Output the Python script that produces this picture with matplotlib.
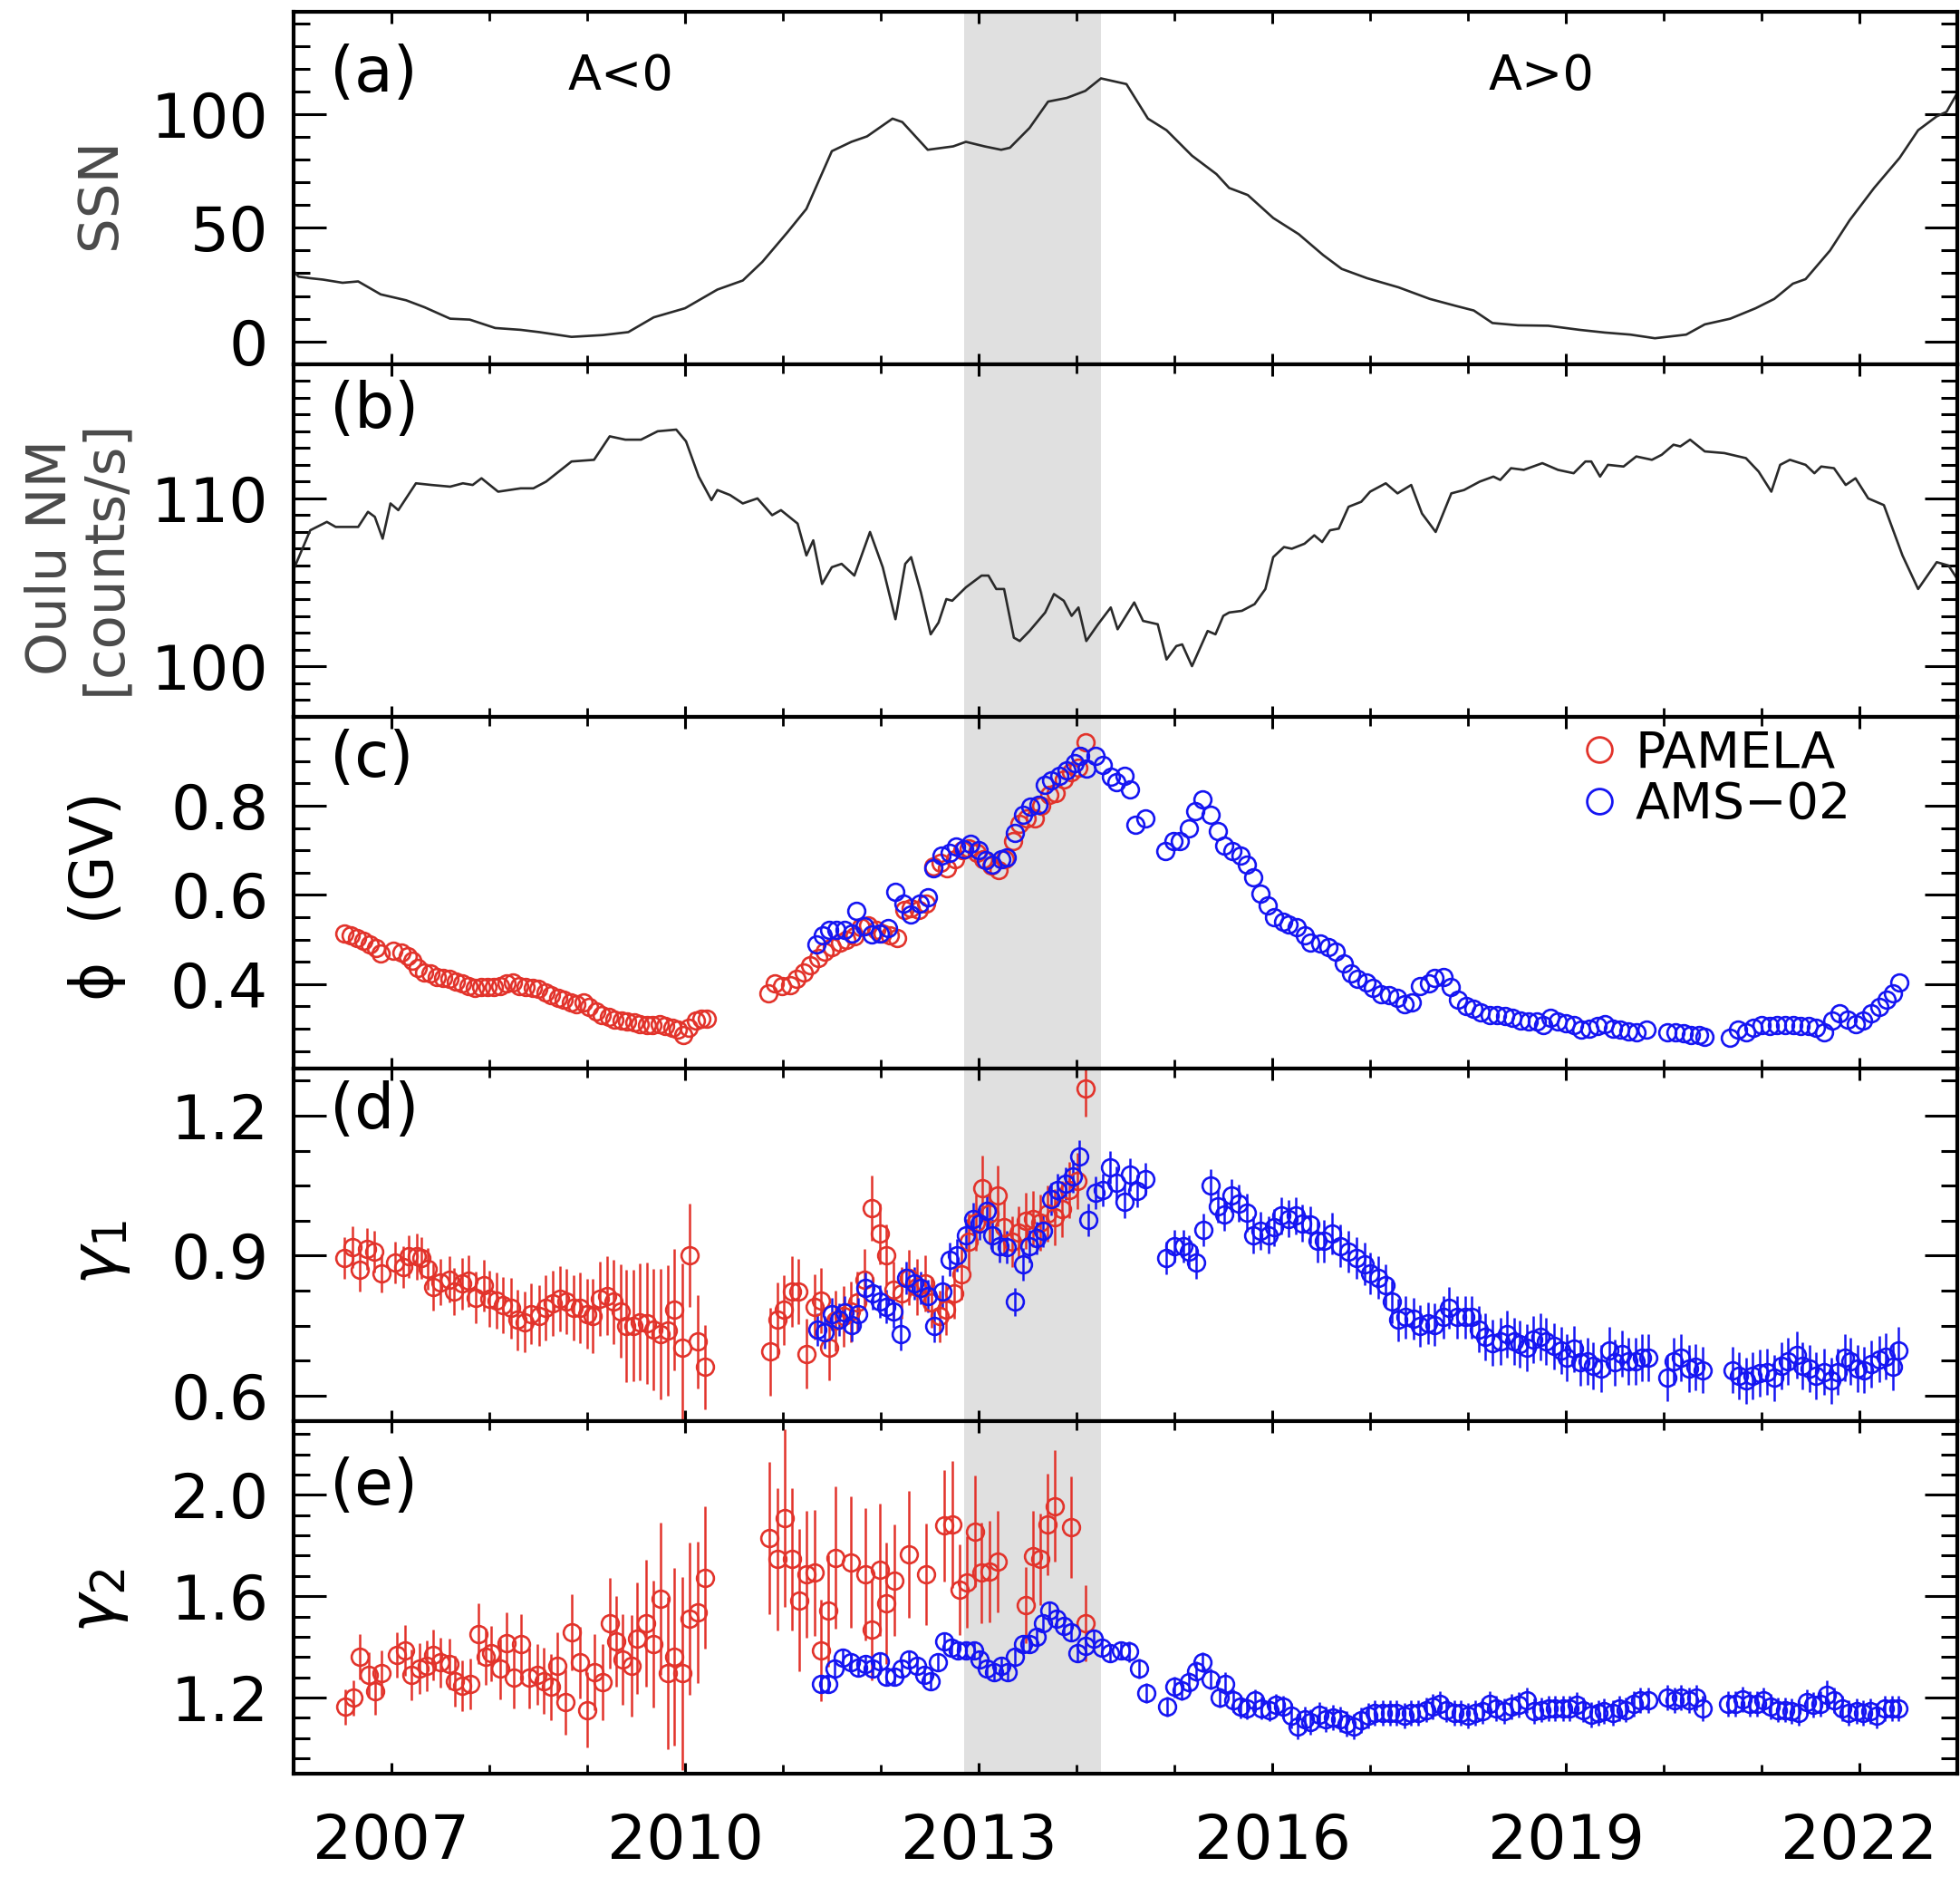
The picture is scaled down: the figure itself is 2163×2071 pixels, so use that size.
import matplotlib
matplotlib.use("Agg")
import matplotlib.pyplot as plt
from matplotlib.ticker import MultipleLocator, FixedLocator, FormatStrFormatter
from matplotlib.lines import Line2D

plt.rcParams['font.family'] = ['DejaVu Sans']

# ---------------- data ----------------
ssn_year = [2006.0, 2006.05, 2006.17, 2006.30, 2006.50, 2006.66, 2006.89, 2007.15, 2007.34, 2007.60,
            2007.80, 2008.06, 2008.32, 2008.51, 2008.84, 2009.16, 2009.42, 2009.68, 2010.00, 2010.33,
            2010.59, 2010.79, 2011.05, 2011.24, 2011.50, 2011.70, 2011.86, 2012.12, 2012.22, 2012.48,
            2012.74, 2012.87, 2013.06, 2013.23, 2013.32, 2013.52, 2013.71, 2013.90, 2014.09, 2014.25,
            2014.51, 2014.73, 2014.92, 2015.18, 2015.43, 2015.56, 2015.75, 2016.01, 2016.27, 2016.52,
            2016.71, 2016.97, 2017.29, 2017.61, 2017.87, 2018.06, 2018.25, 2018.51, 2018.82, 2019.14,
            2019.40, 2019.66, 2019.91, 2020.23, 2020.42, 2020.68, 2020.94, 2021.13, 2021.32, 2021.45,
            2021.70, 2021.90, 2022.15, 2022.41, 2022.60, 2022.79, 2022.89, 2023.01]
ssn_val = [31.0, 28.5, 27.8, 27.2, 25.8, 26.4, 20.7, 18.1, 15.0, 10.0,
           9.6, 5.9, 5.1, 4.1, 2.0, 2.8, 4.1, 10.6, 14.6, 22.8,
           26.8, 35.0, 48.2, 58.3, 83.7, 87.8, 90.2, 98.0, 96.5, 84.3,
           85.8, 87.8, 85.8, 84.3, 85.2, 93.9, 105.5, 107.1, 110.2, 115.7,
           113.2, 98.0, 92.9, 81.7, 73.6, 67.5, 64.4, 54.3, 47.2, 38.0,
           31.9, 27.8, 23.8, 18.7, 15.7, 13.6, 8.1, 7.1, 6.9, 5.1,
           3.9, 3.0, 1.4, 3.0, 7.5, 10.0, 14.6, 18.7, 25.4, 27.4,
           40.0, 53.3, 67.5, 80.7, 92.9, 99.0, 101.0, 110.0]

nm_year = [2006.01, 2006.17, 2006.34, 2006.43, 2006.56, 2006.66, 2006.76, 2006.83, 2006.91, 2006.99,
           2007.07, 2007.25, 2007.41, 2007.60, 2007.73, 2007.83, 2007.92, 2008.09, 2008.32, 2008.45,
           2008.58, 2008.84, 2009.07, 2009.23, 2009.39, 2009.55, 2009.72, 2009.91, 2010.01, 2010.14,
           2010.27, 2010.33, 2010.46, 2010.59, 2010.74, 2010.89, 2010.98, 2011.15, 2011.24, 2011.31,
           2011.40, 2011.50, 2011.60, 2011.73, 2011.89, 2012.02, 2012.15, 2012.25, 2012.31, 2012.41,
           2012.51, 2012.59, 2012.67, 2012.73, 2012.87, 2013.03, 2013.10, 2013.18, 2013.26, 2013.36,
           2013.42, 2013.52, 2013.68, 2013.77, 2013.87, 2013.95, 2014.02, 2014.10, 2014.22, 2014.35,
           2014.42, 2014.59, 2014.68, 2014.83, 2014.92, 2015.02, 2015.08, 2015.18, 2015.34, 2015.42,
           2015.50, 2015.56, 2015.69, 2015.82, 2015.93, 2016.01, 2016.12, 2016.20, 2016.33, 2016.43,
           2016.51, 2016.59, 2016.68, 2016.78, 2016.91, 2017.00, 2017.16, 2017.28, 2017.42, 2017.53,
           2017.67, 2017.83, 2017.96, 2018.12, 2018.26, 2018.33, 2018.44, 2018.57, 2018.76, 2018.92,
           2019.08, 2019.20, 2019.26, 2019.35, 2019.43, 2019.59, 2019.72, 2019.88, 2019.98, 2020.10,
           2020.17, 2020.27, 2020.42, 2020.62, 2020.84, 2020.97, 2021.10, 2021.19, 2021.29, 2021.45,
           2021.54, 2021.61, 2021.74, 2021.86, 2021.96, 2022.09, 2022.25, 2022.44, 2022.60, 2022.79,
           2022.91, 2023.00]
nm_val = [105.9, 108.1, 108.6, 108.3, 108.3, 108.3, 109.2, 108.9, 107.6, 109.7,
          109.3, 110.9, 110.8, 110.7, 110.9, 110.8, 111.2, 110.4, 110.6, 110.6,
          111.0, 112.2, 112.3, 113.7, 113.5, 113.5, 114.0, 114.1, 113.4, 111.3,
          109.9, 110.5, 110.2, 109.7, 110.0, 109.0, 109.3, 108.5, 106.6, 107.5,
          104.9, 105.9, 106.1, 105.4, 108.0, 105.9, 102.8, 106.1, 106.5, 104.4,
          101.9, 102.6, 104.0, 103.9, 104.7, 105.4, 105.4, 104.6, 104.6, 101.7,
          101.5, 102.1, 103.2, 104.3, 103.9, 103.0, 103.5, 101.5, 102.5, 103.5,
          102.2, 103.8, 102.7, 102.5, 100.4, 101.2, 101.3, 100.0, 102.1, 101.9,
          103.0, 103.2, 103.3, 103.7, 104.6, 106.5, 107.1, 107.0, 107.3, 107.8,
          107.4, 108.1, 108.2, 109.5, 109.8, 110.4, 110.9, 110.3, 110.8, 109.1,
          108.0, 110.3, 110.5, 111.0, 111.3, 111.1, 111.8, 111.7, 112.1, 111.7,
          111.5, 112.2, 112.2, 111.3, 112.0, 111.9, 112.5, 112.3, 112.6, 113.2,
          113.1, 113.5, 112.8, 112.7, 112.4, 111.6, 110.4, 112.0, 112.3, 112.0,
          111.5, 111.9, 111.8, 110.8, 111.2, 110.0, 109.6, 106.6, 104.6, 106.2,
          106.0, 105.2]

pam_phi_year = [2006.52, 2006.58, 2006.65, 2006.71, 2006.78, 2006.84, 2006.89, 2007.02, 2007.10, 2007.17,
                2007.21, 2007.27, 2007.33, 2007.40, 2007.46, 2007.53, 2007.59, 2007.66, 2007.72, 2007.79,
                2007.85, 2007.92, 2007.98, 2008.05, 2008.11, 2008.18, 2008.24, 2008.31, 2008.37, 2008.44,
                2008.50, 2008.57, 2008.63, 2008.70, 2008.76, 2008.83, 2008.89, 2008.96, 2009.02, 2009.09,
                2009.15, 2009.22, 2009.28, 2009.35, 2009.41, 2009.48, 2009.54, 2009.61, 2009.67, 2009.74,
                2009.80, 2009.87, 2009.93, 2009.98, 2010.04, 2010.11, 2010.17, 2010.22,
                2010.85, 2010.92, 2010.99, 2011.07, 2011.14, 2011.21, 2011.28, 2011.36, 2011.43, 2011.50,
                2011.58, 2011.65, 2011.73, 2011.80, 2011.87, 2011.95, 2012.02, 2012.09, 2012.17, 2012.24,
                2012.31, 2012.39, 2012.46, 2012.54, 2012.61, 2012.68, 2012.76, 2012.83, 2012.90, 2012.98,
                2013.05, 2013.13, 2013.20, 2013.27, 2013.35, 2013.42, 2013.49, 2013.57, 2013.64, 2013.72,
                2013.79, 2013.87, 2013.94, 2014.02, 2014.09]
pam_phi = [0.514, 0.509, 0.504, 0.497, 0.489, 0.481, 0.468, 0.475, 0.471, 0.463,
           0.453, 0.437, 0.427, 0.424, 0.416, 0.413, 0.411, 0.406, 0.401, 0.396,
           0.391, 0.393, 0.393, 0.394, 0.396, 0.401, 0.403, 0.396, 0.394, 0.391,
           0.389, 0.382, 0.375, 0.370, 0.365, 0.360, 0.355, 0.360, 0.349, 0.339,
           0.331, 0.326, 0.321, 0.319, 0.317, 0.314, 0.310, 0.308, 0.308, 0.310,
           0.306, 0.303, 0.298, 0.286, 0.303, 0.319, 0.322, 0.322,
           0.380, 0.401, 0.396, 0.398, 0.411, 0.427, 0.442, 0.458, 0.473, 0.484,
           0.494, 0.499, 0.507, 0.527, 0.532, 0.522, 0.514, 0.509, 0.504, 0.566,
           0.570, 0.566, 0.580, 0.664, 0.672, 0.660, 0.680, 0.700, 0.705, 0.695,
           0.680, 0.665, 0.655, 0.680, 0.720, 0.760, 0.772, 0.772, 0.800, 0.825,
           0.829, 0.860, 0.875, 0.885, 0.942]

ams_phi_year = [2011.34, 2011.41, 2011.47, 2011.55, 2011.63, 2011.70, 2011.75, 2011.83, 2011.91, 2011.99,
                2012.07, 2012.15, 2012.23, 2012.31, 2012.40, 2012.48, 2012.54, 2012.62, 2012.70, 2012.77,
                2012.85, 2012.92, 2013.00, 2013.07, 2013.14, 2013.23, 2013.29, 2013.37, 2013.45, 2013.53,
                2013.61, 2013.68, 2013.74, 2013.82, 2013.90, 2013.98, 2014.04, 2014.10, 2014.19, 2014.27,
                2014.35, 2014.41, 2014.49, 2014.55, 2014.60, 2014.70,
                2014.91, 2014.99, 2015.06, 2015.15, 2015.21, 2015.29, 2015.37, 2015.44, 2015.51, 2015.59,
                2015.68, 2015.74, 2015.81, 2015.88, 2015.95, 2016.02, 2016.11, 2016.17, 2016.25, 2016.33,
                2016.39, 2016.49, 2016.57, 2016.65, 2016.73, 2016.81, 2016.87, 2016.96, 2017.03, 2017.11,
                2017.19, 2017.28, 2017.35, 2017.43, 2017.51, 2017.60, 2017.66, 2017.75, 2017.82, 2017.90,
                2017.98, 2018.06, 2018.13, 2018.22, 2018.30, 2018.38, 2018.45, 2018.54, 2018.62, 2018.70,
                2018.77, 2018.84, 2018.92, 2019.00, 2019.08, 2019.16, 2019.24, 2019.32, 2019.40, 2019.48,
                2019.56, 2019.64, 2019.72, 2019.82,
                2020.04, 2020.12, 2020.20, 2020.28, 2020.36, 2020.42,
                2020.68, 2020.76, 2020.84, 2020.92, 2021.00, 2021.08, 2021.16, 2021.24, 2021.32, 2021.40,
                2021.48, 2021.56, 2021.64, 2021.72, 2021.80, 2021.88, 2021.96, 2022.04, 2022.12, 2022.20,
                2022.28, 2022.34, 2022.41]
ams_phi = [0.489, 0.509, 0.522, 0.522, 0.522, 0.514, 0.564, 0.530, 0.512, 0.514,
           0.525, 0.607, 0.581, 0.556, 0.581, 0.595, 0.659, 0.688, 0.695, 0.708,
           0.703, 0.715, 0.700, 0.679, 0.669, 0.681, 0.685, 0.739, 0.780, 0.798,
           0.803, 0.846, 0.857, 0.867, 0.880, 0.896, 0.911, 0.883, 0.911, 0.891,
           0.865, 0.853, 0.867, 0.836, 0.757, 0.772,
           0.698, 0.721, 0.721, 0.749, 0.788, 0.815, 0.780, 0.743, 0.710, 0.698,
           0.688, 0.669, 0.640, 0.602, 0.576, 0.551, 0.540, 0.533, 0.527, 0.509,
           0.494, 0.492, 0.483, 0.473, 0.447, 0.424, 0.411, 0.403, 0.391, 0.378,
           0.375, 0.370, 0.355, 0.360, 0.396, 0.401, 0.413, 0.416, 0.393, 0.365,
           0.352, 0.344, 0.337, 0.331, 0.331, 0.329, 0.324, 0.319, 0.317, 0.317,
           0.308, 0.324, 0.317, 0.313, 0.308, 0.298, 0.300, 0.306, 0.310, 0.300,
           0.298, 0.295, 0.293, 0.298,
           0.293, 0.293, 0.290, 0.286, 0.286, 0.282,
           0.279, 0.298, 0.293, 0.303, 0.308, 0.306, 0.308, 0.308, 0.308, 0.306,
           0.306, 0.303, 0.293, 0.319, 0.334, 0.321, 0.310, 0.319, 0.334, 0.349,
           0.365, 0.380, 0.403]

pam_g1_year = [2006.52, 2006.60, 2006.68, 2006.75, 2006.82, 2006.90, 2007.04, 2007.12, 2007.18, 2007.26,
               2007.31, 2007.37, 2007.43, 2007.50, 2007.59, 2007.64, 2007.72, 2007.79, 2007.86, 2007.94,
               2008.00, 2008.07, 2008.14, 2008.22, 2008.29, 2008.36, 2008.43, 2008.51, 2008.57, 2008.65,
               2008.72, 2008.79, 2008.86, 2008.93, 2009.00, 2009.06, 2009.13, 2009.20, 2009.27, 2009.34,
               2009.40, 2009.47, 2009.54, 2009.61, 2009.68, 2009.75, 2009.82, 2009.89, 2009.97, 2010.05,
               2010.13, 2010.20,
               2010.87, 2010.94, 2011.01, 2011.09, 2011.16, 2011.24, 2011.32, 2011.39, 2011.47, 2011.54,
               2011.62, 2011.69, 2011.76, 2011.83, 2011.91, 2011.99, 2012.06, 2012.13, 2012.21, 2012.29,
               2012.37, 2012.45, 2012.52, 2012.60, 2012.67, 2012.75, 2012.82, 2012.90, 2012.97, 2013.04,
               2013.11, 2013.19, 2013.26, 2013.34, 2013.41, 2013.48, 2013.56, 2013.63, 2013.70, 2013.78,
               2013.85, 2013.93, 2014.01, 2014.09]
pam_g1 = [0.895, 0.918, 0.869, 0.914, 0.908, 0.862, 0.885, 0.875, 0.898, 0.898,
          0.895, 0.872, 0.833, 0.843, 0.849, 0.823, 0.840, 0.846, 0.810, 0.836,
          0.807, 0.804, 0.794, 0.788, 0.762, 0.758, 0.775, 0.771, 0.788, 0.797,
          0.807, 0.801, 0.788, 0.788, 0.775, 0.771, 0.807, 0.814, 0.801, 0.781,
          0.749, 0.750, 0.758, 0.755, 0.742, 0.732, 0.739, 0.784, 0.703, 0.901,
          0.716, 0.661,
          0.694, 0.762, 0.784, 0.823, 0.823, 0.690, 0.790, 0.804, 0.703, 0.760,
          0.770, 0.780, 0.800, 0.849, 1.002, 0.947, 0.901, 0.827, 0.820, 0.853,
          0.833, 0.840, 0.800, 0.770, 0.784, 0.820, 0.860, 0.930, 0.970, 1.044,
          0.990, 1.028, 0.960, 0.930, 0.950, 0.975, 0.978, 0.970, 0.990, 0.982,
          1.000, 1.040, 1.060, 1.258]
pam_g1_err = [0.045, 0.045, 0.045, 0.045, 0.045, 0.040, 0.045, 0.045, 0.045, 0.050,
              0.045, 0.045, 0.050, 0.050, 0.050, 0.050, 0.055, 0.055, 0.055, 0.055,
              0.060, 0.060, 0.060, 0.065, 0.065, 0.065, 0.065, 0.065, 0.070, 0.070,
              0.070, 0.070, 0.070, 0.075, 0.075, 0.080, 0.080, 0.085, 0.090, 0.100,
              0.120, 0.120, 0.125, 0.130, 0.130, 0.140, 0.140, 0.130, 0.180, 0.110,
              0.100, 0.090,
              0.095, 0.080, 0.075, 0.075, 0.070, 0.075, 0.070, 0.070, 0.070, 0.065,
              0.065, 0.065, 0.065, 0.065, 0.070, 0.065, 0.065, 0.060, 0.055, 0.060,
              0.060, 0.060, 0.055, 0.055, 0.055, 0.055, 0.055, 0.060, 0.060, 0.070,
              0.065, 0.065, 0.060, 0.055, 0.055, 0.060, 0.060, 0.060, 0.060, 0.060,
              0.060, 0.060, 0.060, 0.060]

ams_g1_year = [2011.35, 2011.43, 2011.50, 2011.57, 2011.63, 2011.70, 2011.77, 2011.84, 2011.92, 2011.99,
               2012.06, 2012.13, 2012.20, 2012.26, 2012.34, 2012.41, 2012.48, 2012.55, 2012.63, 2012.70,
               2012.78, 2012.87, 2012.94, 2013.01, 2013.08, 2013.14, 2013.21, 2013.29, 2013.37, 2013.45,
               2013.52, 2013.59, 2013.66, 2013.74, 2013.81, 2013.89, 2013.96, 2014.03, 2014.12, 2014.19,
               2014.27, 2014.34, 2014.41, 2014.49, 2014.55, 2014.62, 2014.70,
               2014.92, 2015.00, 2015.09, 2015.15, 2015.22, 2015.30, 2015.37, 2015.44, 2015.51, 2015.58,
               2015.66, 2015.74, 2015.81, 2015.88, 2015.96, 2016.02, 2016.09, 2016.17, 2016.24, 2016.31,
               2016.39, 2016.46, 2016.53, 2016.61, 2016.69, 2016.78, 2016.86, 2016.94, 2017.00, 2017.08,
               2017.16, 2017.22, 2017.29, 2017.36, 2017.44, 2017.51, 2017.59, 2017.66, 2017.75, 2017.81,
               2017.89, 2017.97, 2018.04, 2018.11, 2018.18, 2018.25, 2018.33, 2018.40, 2018.47, 2018.53,
               2018.60, 2018.67, 2018.74, 2018.80, 2018.88, 2018.95, 2019.01, 2019.08, 2019.15, 2019.22,
               2019.28, 2019.36, 2019.44, 2019.50, 2019.57, 2019.64, 2019.71, 2019.78, 2019.84,
               2020.04, 2020.10, 2020.18, 2020.26, 2020.32, 2020.40,
               2020.70, 2020.77, 2020.84, 2020.91, 2020.98, 2021.06, 2021.13, 2021.20, 2021.27, 2021.36,
               2021.42, 2021.49, 2021.56, 2021.64, 2021.71, 2021.78, 2021.85, 2021.91, 2021.98, 2022.05,
               2022.12, 2022.20, 2022.27, 2022.34, 2022.40]
ams_g1 = [0.742, 0.736, 0.775, 0.762, 0.778, 0.752, 0.775, 0.830, 0.820, 0.801,
          0.791, 0.781, 0.732, 0.853, 0.840, 0.830, 0.814, 0.749, 0.823, 0.892,
          0.901, 0.944, 0.979, 0.969, 0.995, 0.944, 0.921, 0.918, 0.801, 0.882,
          0.921, 0.937, 0.953, 1.021, 1.041, 1.054, 1.070, 1.112, 0.976, 1.034,
          1.041, 1.090, 1.057, 1.015, 1.073, 1.038, 1.064,
          0.895, 0.921, 0.921, 0.908, 0.885, 0.956, 1.051, 1.005, 0.989, 1.028,
          1.012, 0.992, 0.944, 0.953, 0.944, 0.960, 0.986, 0.979, 0.986, 0.969,
          0.966, 0.931, 0.931, 0.947, 0.921, 0.908, 0.895, 0.882, 0.862, 0.853,
          0.836, 0.801, 0.762, 0.768, 0.765, 0.749, 0.755, 0.752, 0.768, 0.788,
          0.768, 0.768, 0.768, 0.742, 0.726, 0.713, 0.716, 0.732, 0.716, 0.710,
          0.703, 0.720, 0.726, 0.716, 0.706, 0.697, 0.681, 0.700, 0.671, 0.674,
          0.664, 0.658, 0.697, 0.671, 0.690, 0.674, 0.674, 0.681, 0.681,
          0.638, 0.674, 0.681, 0.658, 0.661, 0.655,
          0.655, 0.642, 0.632, 0.642, 0.648, 0.651, 0.638, 0.664, 0.674, 0.687,
          0.664, 0.658, 0.642, 0.651, 0.632, 0.651, 0.681, 0.674, 0.658, 0.655,
          0.668, 0.678, 0.684, 0.661, 0.697]
ams_g1_err = [0.035, 0.035, 0.035, 0.035, 0.035, 0.035, 0.035, 0.035, 0.035, 0.035,
              0.035, 0.035, 0.035, 0.035, 0.035, 0.035, 0.035, 0.035, 0.035, 0.035,
              0.035, 0.035, 0.035, 0.035, 0.035, 0.035, 0.035, 0.035, 0.030, 0.035,
              0.035, 0.035, 0.035, 0.035, 0.035, 0.035, 0.035, 0.035, 0.035, 0.035,
              0.035, 0.035, 0.035, 0.035, 0.035, 0.035, 0.035,
              0.035, 0.035, 0.035, 0.035, 0.035, 0.035, 0.035, 0.035, 0.035, 0.035,
              0.040, 0.040, 0.040, 0.040, 0.040, 0.040, 0.040, 0.040, 0.040, 0.040,
              0.040, 0.045, 0.045, 0.045, 0.045, 0.045, 0.045, 0.045, 0.045, 0.045,
              0.045, 0.045, 0.045, 0.045, 0.045, 0.045, 0.045, 0.045, 0.045, 0.045,
              0.045, 0.045, 0.045, 0.050, 0.050, 0.050, 0.050, 0.050, 0.050, 0.050,
              0.050, 0.050, 0.050, 0.050, 0.050, 0.050, 0.050, 0.050, 0.050, 0.050,
              0.050, 0.050, 0.050, 0.050, 0.050, 0.050, 0.050, 0.050, 0.050,
              0.050, 0.050, 0.050, 0.050, 0.050, 0.050,
              0.050, 0.050, 0.050, 0.050, 0.050, 0.050, 0.050, 0.050, 0.050, 0.050,
              0.050, 0.050, 0.050, 0.050, 0.050, 0.050, 0.050, 0.050, 0.050, 0.050,
              0.050, 0.050, 0.050, 0.050, 0.050]

pam_g2_year = [2006.53, 2006.61, 2006.68, 2006.77, 2006.83, 2006.90, 2007.06, 2007.14, 2007.20, 2007.29,
               2007.36, 2007.43, 2007.50, 2007.59, 2007.65, 2007.72, 2007.81, 2007.89, 2007.96, 2008.02,
               2008.11, 2008.18, 2008.25, 2008.32, 2008.41, 2008.49, 2008.56, 2008.63, 2008.69, 2008.78,
               2008.84, 2008.93, 2009.00, 2009.07, 2009.16, 2009.23, 2009.30, 2009.36, 2009.45, 2009.51,
               2009.60, 2009.68, 2009.75, 2009.82, 2009.89, 2009.97, 2010.05, 2010.13, 2010.20,
               2010.86, 2010.94, 2011.02, 2011.09, 2011.17, 2011.24, 2011.32, 2011.39, 2011.46, 2011.54,
               2011.69, 2011.84, 2011.91, 2011.99, 2012.06, 2012.14, 2012.29, 2012.46, 2012.65, 2012.73,
               2012.81, 2012.88, 2012.96, 2013.03, 2013.11, 2013.19, 2013.48, 2013.56, 2013.63, 2013.70,
               2013.78, 2013.94, 2014.09]
pam_g2 = [1.164, 1.200, 1.362, 1.290, 1.224, 1.296, 1.368, 1.386, 1.290, 1.314,
          1.326, 1.368, 1.338, 1.332, 1.266, 1.248, 1.254, 1.452, 1.362, 1.374,
          1.314, 1.416, 1.278, 1.410, 1.278, 1.290, 1.266, 1.242, 1.326, 1.182,
          1.458, 1.338, 1.152, 1.302, 1.260, 1.494, 1.422, 1.350, 1.326, 1.434,
          1.494, 1.410, 1.590, 1.296, 1.362, 1.296, 1.512, 1.536, 1.674,
          1.830, 1.746, 1.908, 1.746, 1.584, 1.686, 1.692, 1.386, 1.542, 1.752,
          1.734, 1.686, 1.470, 1.704, 1.572, 1.662, 1.764, 1.686, 1.878, 1.884,
          1.626, 1.656, 1.856, 1.692, 1.698, 1.736, 1.566, 1.758, 1.746, 1.884,
          1.956, 1.872, 1.494]
pam_g2_err = [0.07, 0.07, 0.09, 0.09, 0.09, 0.09, 0.09, 0.10, 0.10, 0.10,
              0.10, 0.10, 0.10, 0.10, 0.10, 0.10, 0.10, 0.12, 0.11, 0.11,
              0.12, 0.12, 0.12, 0.12, 0.12, 0.12, 0.13, 0.13, 0.13, 0.13,
              0.15, 0.14, 0.15, 0.15, 0.15, 0.18, 0.18, 0.18, 0.20, 0.22,
              0.25, 0.25, 0.30, 0.30, 0.35, 0.38, 0.30, 0.28, 0.28,
              0.30, 0.28, 0.35, 0.28, 0.28, 0.25, 0.25, 0.20, 0.22, 0.28,
              0.26, 0.26, 0.20, 0.26, 0.24, 0.22, 0.25, 0.20, 0.22, 0.25,
              0.18, 0.18, 0.22, 0.20, 0.20, 0.20, 0.15, 0.18, 0.18, 0.20,
              0.22, 0.20, 0.15]

ams_g2_year = [2011.39, 2011.46, 2011.53, 2011.61, 2011.69, 2011.77, 2011.84, 2011.92, 2011.99, 2012.06,
               2012.14, 2012.21, 2012.29, 2012.37, 2012.44, 2012.51, 2012.58, 2012.65, 2012.72, 2012.79,
               2012.87, 2012.95, 2013.01, 2013.08, 2013.16, 2013.23, 2013.30, 2013.37, 2013.45, 2013.52,
               2013.59, 2013.66, 2013.72, 2013.80, 2013.87, 2013.94, 2014.01, 2014.09, 2014.18, 2014.26,
               2014.34, 2014.45, 2014.54, 2014.64, 2014.71,
               2014.93, 2015.00, 2015.07, 2015.15, 2015.22, 2015.29, 2015.37, 2015.46, 2015.52, 2015.60,
               2015.68, 2015.74, 2015.82, 2015.89, 2015.97, 2016.04, 2016.11, 2016.19, 2016.26, 2016.33,
               2016.39, 2016.48, 2016.55, 2016.62, 2016.69, 2016.76, 2016.83, 2016.91, 2016.98, 2017.05,
               2017.13, 2017.20, 2017.27, 2017.35, 2017.42, 2017.49, 2017.57, 2017.64, 2017.71, 2017.78,
               2017.86, 2017.93, 2018.00, 2018.07, 2018.15, 2018.22, 2018.29, 2018.37, 2018.44, 2018.52,
               2018.60, 2018.68, 2018.75, 2018.82, 2018.89, 2018.97, 2019.04, 2019.11, 2019.18, 2019.26,
               2019.33, 2019.39, 2019.48, 2019.55, 2019.61, 2019.69, 2019.76, 2019.84,
               2020.04, 2020.11, 2020.18, 2020.26, 2020.33, 2020.40,
               2020.66, 2020.73, 2020.81, 2020.88, 2020.95, 2021.02, 2021.09, 2021.17, 2021.24, 2021.31,
               2021.38, 2021.46, 2021.53, 2021.60, 2021.67, 2021.74, 2021.82, 2021.89, 2021.97, 2022.04,
               2022.11, 2022.18, 2022.26, 2022.33, 2022.40]
ams_g2 = [1.254, 1.254, 1.314, 1.356, 1.338, 1.320, 1.332, 1.314, 1.344, 1.284,
          1.284, 1.314, 1.350, 1.326, 1.290, 1.266, 1.338, 1.422, 1.398, 1.386,
          1.386, 1.386, 1.350, 1.314, 1.302, 1.326, 1.302, 1.362, 1.410, 1.410,
          1.440, 1.494, 1.542, 1.512, 1.482, 1.458, 1.374, 1.404, 1.434, 1.398,
          1.374, 1.386, 1.381, 1.315, 1.218,
          1.164, 1.242, 1.230, 1.261, 1.303, 1.339, 1.273, 1.200, 1.255, 1.188,
          1.164, 1.158, 1.188, 1.158, 1.152, 1.170, 1.164, 1.128, 1.086, 1.116,
          1.104, 1.134, 1.116, 1.122, 1.116, 1.098, 1.086, 1.110, 1.128, 1.140,
          1.140, 1.140, 1.140, 1.128, 1.140, 1.140, 1.152, 1.164, 1.176, 1.152,
          1.140, 1.140, 1.128, 1.140, 1.146, 1.176, 1.158, 1.146, 1.164, 1.170,
          1.188, 1.146, 1.152, 1.158, 1.158, 1.158, 1.158, 1.170, 1.152, 1.134,
          1.140, 1.146, 1.140, 1.158, 1.152, 1.176, 1.188, 1.188,
          1.200, 1.188, 1.200, 1.188, 1.200, 1.158,
          1.176, 1.176, 1.194, 1.176, 1.176, 1.188, 1.164, 1.152, 1.152, 1.146,
          1.140, 1.182, 1.170, 1.176, 1.212, 1.188, 1.158, 1.140, 1.146, 1.140,
          1.146, 1.128, 1.158, 1.158, 1.158]
ams_g2_err = [0.035, 0.035, 0.035, 0.035, 0.035, 0.035, 0.035, 0.035, 0.035, 0.035,
              0.035, 0.035, 0.035, 0.035, 0.035, 0.035, 0.035, 0.035, 0.035, 0.035,
              0.035, 0.035, 0.035, 0.035, 0.035, 0.035, 0.035, 0.035, 0.035, 0.035,
              0.035, 0.035, 0.035, 0.035, 0.035, 0.035, 0.035, 0.035, 0.035, 0.035,
              0.035, 0.035, 0.040, 0.040, 0.040,
              0.040, 0.040, 0.040, 0.040, 0.040, 0.040, 0.040, 0.040, 0.045, 0.045,
              0.045, 0.045, 0.045, 0.045, 0.045, 0.045, 0.045, 0.050, 0.050, 0.050,
              0.050, 0.050, 0.050, 0.050, 0.050, 0.050, 0.050, 0.050, 0.050, 0.050,
              0.050, 0.050, 0.050, 0.050, 0.050, 0.050, 0.050, 0.050, 0.050, 0.050,
              0.050, 0.050, 0.050, 0.050, 0.050, 0.050, 0.050, 0.050, 0.050, 0.050,
              0.050, 0.050, 0.050, 0.050, 0.050, 0.050, 0.050, 0.050, 0.050, 0.050,
              0.050, 0.050, 0.050, 0.050, 0.050, 0.050, 0.050, 0.050,
              0.050, 0.050, 0.050, 0.050, 0.050, 0.050,
              0.050, 0.050, 0.050, 0.050, 0.050, 0.050, 0.050, 0.050, 0.050, 0.050,
              0.050, 0.050, 0.050, 0.050, 0.055, 0.050, 0.050, 0.050, 0.050, 0.050,
              0.050, 0.050, 0.050, 0.050, 0.050]

shade_span = (2012.85, 2014.25)
panel_tags = ['(a)', '(b)', '(c)', '(d)', '(e)']
year_ticks = [2007, 2010, 2013, 2016, 2019, 2022]
polarity_labels = ['A<0', 'A>0']

# ---------------- style ----------------
RED = '#e2332b'
BLUE = '#1515f2'
LINE = '#2a2a2a'
FS = 49

W, H = 2163, 2071
fig = plt.figure(figsize=(W / 100, H / 100), dpi=100)
axes = fig.subplots(5, 1, sharex=True,
                    gridspec_kw=dict(hspace=0, left=324 / W, right=2160 / W,
                                     top=1 - 13 / H, bottom=1 - 1957 / H))

for ax in axes:
    ax.axvspan(*shade_span, color='#e0e0e0', lw=0, zorder=0)
    for s in ax.spines.values():
        s.set_linewidth(3.0)
        s.set_zorder(5)
    ax.set_xlim(2006.0, 2023.0)
    ax.xaxis.set_major_locator(FixedLocator(year_ticks))
    ax.xaxis.set_minor_locator(MultipleLocator(1))
    ax.tick_params(axis='y', which='major', direction='in', length=26, width=2.2,
                   left=True, right=True, labelsize=FS, pad=20)
    ax.tick_params(axis='y', which='minor', direction='in', length=13, width=2.2,
                   left=True, right=True)
    ax.tick_params(axis='x', which='major', direction='in', length=9, width=2.2,
                   top=True, bottom=True, labelsize=FS, pad=30)
    ax.tick_params(axis='x', which='minor', direction='in', length=7, width=2.0,
                   top=True, bottom=True)

# (a) SSN
ax = axes[0]
ax.plot(ssn_year, ssn_val, color=LINE, lw=1.9, zorder=3)
ax.set_ylim(-10, 145)
ax.yaxis.set_major_locator(FixedLocator([0, 50, 100]))
ax.yaxis.set_minor_locator(MultipleLocator(10))
ax.yaxis.set_major_formatter(FormatStrFormatter('%d'))
ax.text(0.1966, 0.817, polarity_labels[0], transform=ax.transAxes, ha='center', va='center', fontsize=39)
ax.text(0.750, 0.817, polarity_labels[1], transform=ax.transAxes, ha='center', va='center', fontsize=39)

# (b) Oulu NM
ax = axes[1]
ax.plot(nm_year, nm_val, color=LINE, lw=1.9, zorder=3)
ax.set_ylim(97, 118)
ax.yaxis.set_major_locator(FixedLocator([100, 110]))
ax.yaxis.set_minor_locator(MultipleLocator(1))
ax.yaxis.set_major_formatter(FormatStrFormatter('%d'))

mk = dict(marker='o', ls='none', mfc='none', ms=13.5, mew=1.9)
# (c) phi
ax = axes[2]
ax.plot(pam_phi_year, pam_phi, mec=RED, zorder=3, **mk)
ax.plot(ams_phi_year, ams_phi, mec=BLUE, zorder=3, **mk)
ax.set_ylim(0.21, 1.0)
ax.yaxis.set_major_locator(FixedLocator([0.4, 0.6, 0.8]))
ax.yaxis.set_minor_locator(MultipleLocator(0.05))
ax.yaxis.set_major_formatter(FormatStrFormatter('%.1f'))
handles = [Line2D([], [], marker='o', ls='none', mfc='none', mec=RED, ms=20, mew=2.0),
           Line2D([], [], marker='o', ls='none', mfc='none', mec=BLUE, ms=20, mew=2.0)]
ax.legend(handles, ['PAMELA', 'AMS\u221202'], loc='upper left', bbox_to_anchor=(0.773, 0.965),
          frameon=False, fontsize=40, borderpad=0, borderaxespad=0, handlelength=0.8,
          handletextpad=0.3, labelspacing=0.05)

eb = dict(fmt='o', mfc='none', ms=13.5, mew=1.9, elinewidth=1.8, capsize=0, zorder=3)
# (d) gamma1
ax = axes[3]
ax.errorbar(pam_g1_year, pam_g1, yerr=pam_g1_err, mec=RED, ecolor=RED, **eb)
ax.errorbar(ams_g1_year, ams_g1, yerr=ams_g1_err, mec=BLUE, ecolor=BLUE, **eb)
ax.set_ylim(0.545, 1.30)
ax.yaxis.set_major_locator(FixedLocator([0.6, 0.9, 1.2]))
ax.yaxis.set_minor_locator(MultipleLocator(0.075))
ax.yaxis.set_major_formatter(FormatStrFormatter('%.1f'))

# (e) gamma2
ax = axes[4]
ax.errorbar(pam_g2_year, pam_g2, yerr=pam_g2_err, mec=RED, ecolor=RED, **eb)
ax.errorbar(ams_g2_year, ams_g2, yerr=ams_g2_err, mec=BLUE, ecolor=BLUE, **eb)
ax.set_ylim(0.9, 2.29)
ax.yaxis.set_major_locator(FixedLocator([1.2, 1.6, 2.0]))
ax.yaxis.set_minor_locator(MultipleLocator(0.08))
ax.yaxis.set_major_formatter(FormatStrFormatter('%.1f'))
ax.xaxis.set_major_formatter(FormatStrFormatter('%d'))

# panel tags
tag_y = [0.823, 0.869, 0.879, 0.882, 0.815]
for ax, t, yy in zip(axes, panel_tags, tag_y):
    ax.text(0.022, yy, t, transform=ax.transAxes, ha='left', va='center', fontsize=50, zorder=6)

# y-axis titles
def ft(x, y, s, **kw):
    fig.text(x / W, 1 - y / H, s, rotation=90, ha='center', va='center', **kw)

ft(110, 213, 'SSN', fontsize=44, color='#4a4a4a')
ft(86, 615, 'Oulu NM\n[counts/s]', fontsize=44, color='#4a4a4a', linespacing=1.0)
ft(107, 989, '\u03d5  (GV)', fontsize=47, color='black')
ft(112, 1382, r'$\gamma_1$', fontsize=52, color='black')
ft(110, 1766, r'$\gamma_2$', fontsize=52, color='black')

fig.savefig('out.png', dpi=100)
